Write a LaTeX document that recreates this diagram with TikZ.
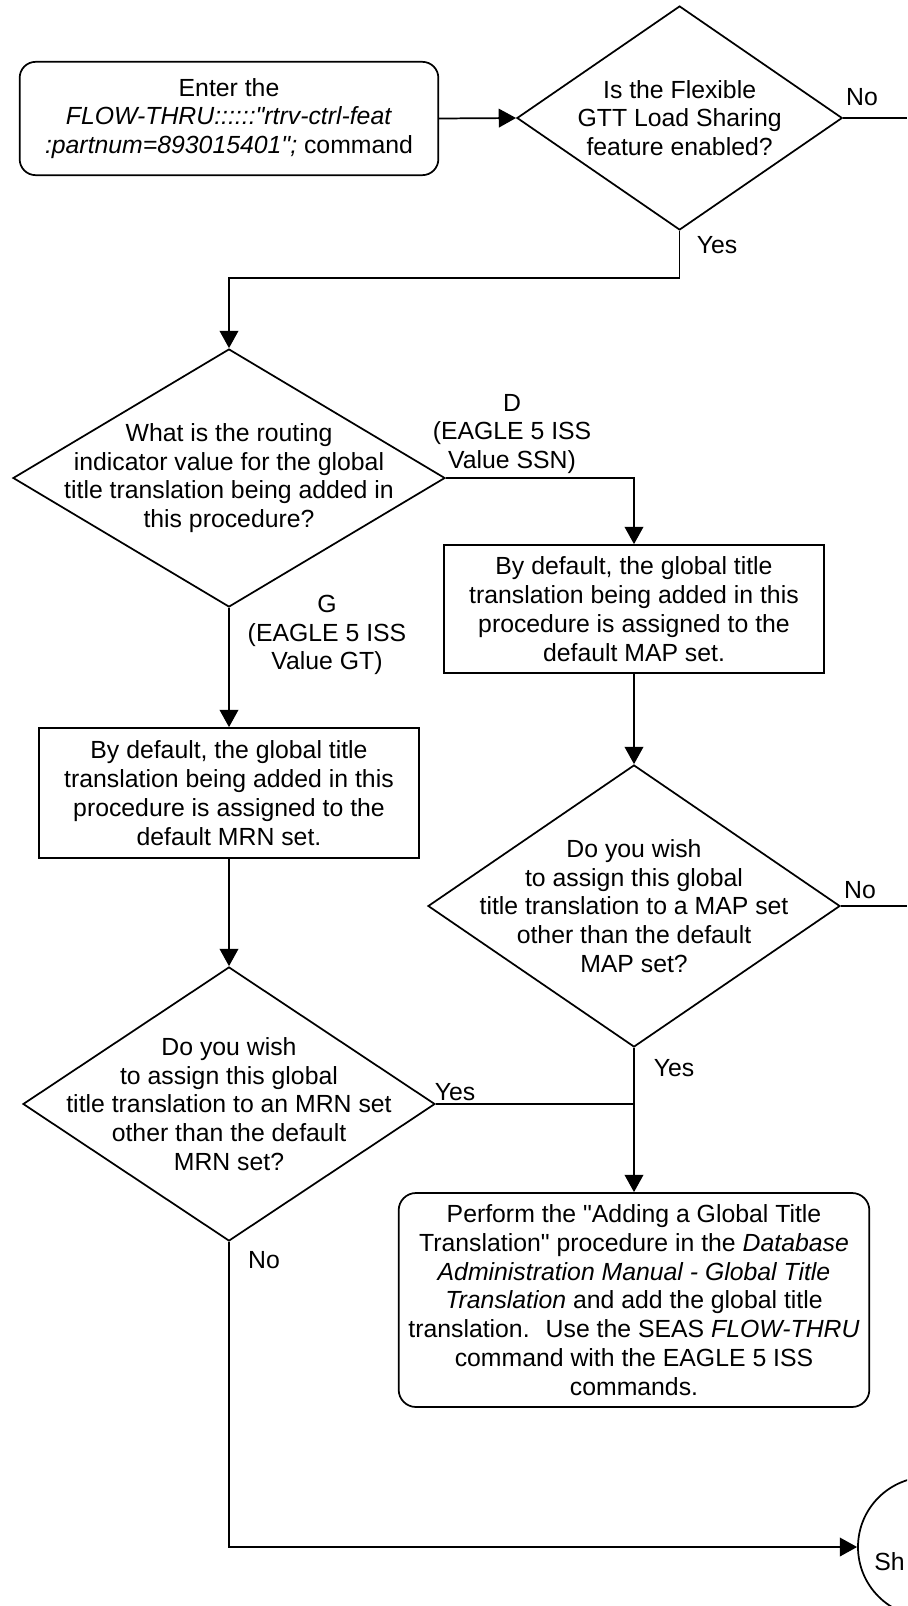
\documentclass[tikz,border=0pt]{standalone}
\usepackage{fontspec}
\newfontfamily\arialfont{Liberation Sans}
\setmainfont{Liberation Sans}
\usetikzlibrary{shapes.geometric,arrows.meta}
\begin{document}
\begin{tikzpicture}[x=0.75pt,y=-0.75pt,
  every node/.style={font=\arialfont\fontsize{18.6}{21.6}\selectfont},
  ln/.style={line width=1.3pt,draw=black},
  arr/.style={ln,-{Triangle[length=13pt,width=14pt]}},
  dia/.style={ln,diamond,inner sep=0pt},
  procbox/.style={ln,rectangle,inner sep=0pt},
  roundbox/.style={ln,rectangle,rounded corners=12pt,inner sep=0pt},
  txt/.style={align=center,inner sep=0pt},
  lbl/.style={inner sep=0pt}]
\useasboundingbox (0,0) rectangle (907,1606);
\clip (0,0) rectangle (907,1606);

% start box
\node[roundbox,minimum width=314pt,minimum height=85pt] (start) at (229,118.5) {};
\node[txt] (startt) at (start) {Enter the\\ \textit{FLOW-THRU::::::"rtrv-ctrl-feat}\\ \textit{:partnum=893015401";} command};

% decision 1
\node[dia,minimum width=244pt,minimum height=168pt] (d1) at (679.6,118) {};
\node[txt] (d1t) at (d1) {Is the Flexible\\GTT Load Sharing\\feature enabled?};

% decision 2
\node[dia,minimum width=324pt,minimum height=193.5pt] (d2) at (229,478) {};
\node[txt] (d2t) at (d2) {What is the routing\\indicator value for the global\\title translation being added in\\this procedure?};

% MAP box
\node[procbox,minimum width=285pt,minimum height=96pt] (mapbox) at (634,609) {};
\node[txt] (mapt) at (mapbox) {By default, the global title\\translation being added in this\\procedure is assigned to the\\default MAP set.};

% MRN box
\node[procbox,minimum width=285pt,minimum height=97.5pt] (mrnbox) at (229,793) {};
\node[txt] (mrnt) at (mrnbox) {By default, the global title\\translation being added in this\\procedure is assigned to the\\default MRN set.};

% decision 3
\node[dia,minimum width=309pt,minimum height=211.5pt] (d3) at (634,906) {};
\node[txt] (d3t) at (d3) {Do you wish\\to assign this global\\title translation to a MAP set\\other than the default\\MAP set?};

% decision 4
\node[dia,minimum width=309pt,minimum height=205.5pt] (d4) at (229,1104) {};
\node[txt] (d4t) at (d4) {Do you wish\\to assign this global\\title translation to an MRN set\\other than the default\\MRN set?};

% perform box
\node[roundbox,rounded corners=13pt,minimum width=353pt,minimum height=160.5pt] (perform) at (634,1300) {};
\node[txt] (performt) at (perform) {Perform the "Adding a Global Title\\Translation" procedure in the \textit{Database}\\\textit{Administration Manual - Global Title}\\\textit{Translation} and add the global title\\translation.~ Use the SEAS \textit{FLOW-THRU}\\command with the EAGLE 5 ISS\\commands.};

% off-page connector circle
\node[ln,circle,minimum size=105pt,inner sep=0pt] (sheet) at (928,1547) {};
\node[lbl,anchor=west] (sheett) at (874,1562) {Sh};

% free ends
\coordinate (no1end) at (907,118);
\coordinate (no3end) at (907,906);
\coordinate (j1) at (679.6,278);
\coordinate (j2) at (229,278);

% connectors
\draw[arr] (start.east) -- (d1.west);
\draw[ln] (d1.east) -- (no1end);
\draw[arr] (d1.south) -- (j1) -- (j2) -- (d2.north);
\draw[arr] (d2.east) -| (mapbox.north);
\draw[arr] (d2.south) -- (mrnbox.north);
\draw[arr] (mapbox.south) -- (d3.north);
\draw[arr] (mrnbox.south) -- (d4.north);
\draw[ln] (d3.east) -- (no3end);
\draw[arr] (d3.south) -- (perform.north);
\draw[ln] (d4.east) -- (d4.east -| perform.north);
\draw[arr] (d4.south) |- (sheet.west);

% labels
\node[lbl] (l1no) at (862,97) {No};
\node[lbl] (l1yes) at (717,245) {Yes};
\node[txt] (l2d) at (512,434) {D\\(EAGLE 5 ISS\\Value SSN)};
\node[txt] (l2g) at (327,635) {G\\(EAGLE 5 ISS\\Value GT)};
\node[lbl] (l3no) at (860,890) {No};
\node[lbl] (l3yes) at (674,1068) {Yes};
\node[lbl] (l4yes) at (455,1092) {Yes};
\node[lbl] (l4no) at (264,1260) {No};
\end{tikzpicture}
\end{document}
